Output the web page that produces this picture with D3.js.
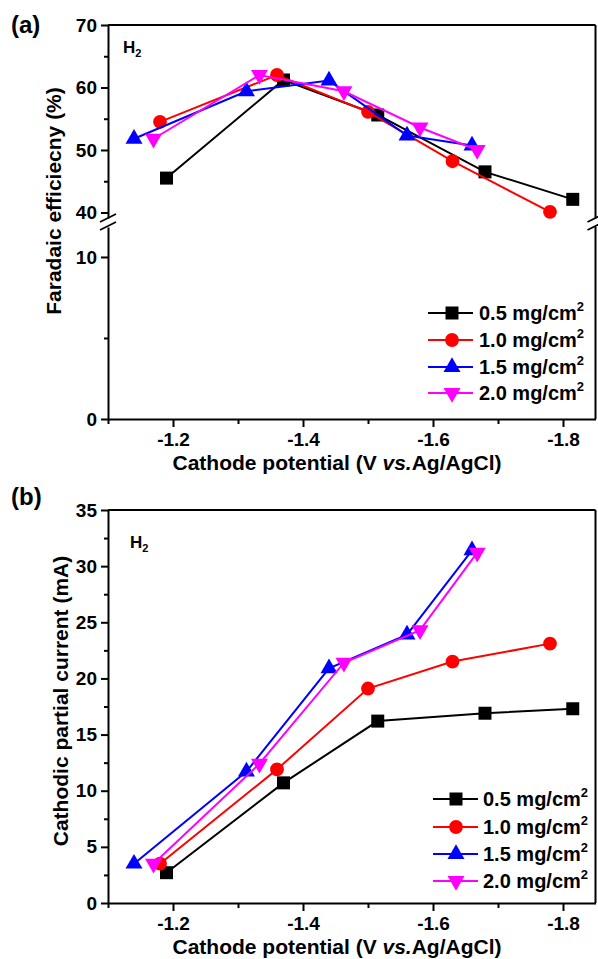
<!DOCTYPE html>
<html>
<head>
<meta charset="utf-8">
<script src="https://cdn.jsdelivr.net/npm/d3@7"></script>
<style>
  body { margin: 0; background: #fff; }
  text { font-family: Arial, "Liberation Sans", sans-serif; font-weight: bold; fill: #000; }
</style>
</head>
<body>
<svg id="chart" width="598" height="959"></svg>
<script>
// Series (loading)
let seriesNames = ["0.5 mg/cm", "1.0 mg/cm", "1.5 mg/cm", "2.0 mg/cm"];
let seriesColors = ["#000000", "#ff0000", "#0000ff", "#ff00ff"];
let seriesShapes = ["square", "circle", "triangle", "triangleDown"];

// Cathode potential (V vs. Ag/AgCl) for each series
let potA = [-1.19, -1.37, -1.515, -1.68, -1.815];
let potB = [-1.18, -1.36, -1.50, -1.63, -1.78];
let potC = [-1.14, -1.313, -1.44, -1.56, -1.66];
let potD = [-1.17, -1.333, -1.463, -1.58, -1.668];

// (a) Faradaic efficiency of H2 (%)
let feA = [45.5, 61.2, 55.6, 46.5, 42.1];
let feB = [54.5, 62.0, 56.1, 48.2, 40.1];
let feC = [51.8, 59.4, 61.1, 52.3, 50.7];
let feD = [51.8, 62.0, 59.4, 53.6, 50.0];

// (b) Cathodic partial current of H2 (mA)
let curA = [2.7, 10.7, 16.2, 16.9, 17.3];
let curB = [3.5, 11.9, 19.1, 21.5, 23.1];
let curC = [3.5, 11.7, 20.9, 23.9, 31.4];
let curD = [3.5, 12.4, 21.4, 24.3, 31.2];

// Tick values
let xMajor = [-1.2, -1.4, -1.6, -1.8];
let xMinor = [-1.1, -1.3, -1.5, -1.7];
let feUpMajor = [40, 50, 60, 70];
let feUpMinor = [45, 55, 65];
let feLowMajor = [0, 10];
let feLowMinor = [5];
let curMajor = [0, 5, 10, 15, 20, 25, 30, 35];
let curMinor = [2.5, 7.5, 12.5, 17.5, 22.5, 27.5, 32.5];

const pots = [potA, potB, potC, potD];
const fes = [feA, feB, feC, feD];
const curs = [curA, curB, curC, curD];

const svg = d3.select("#chart");

const x = d3.scaleLinear().domain([-1.1, -1.85]).range([108, 595.5]);
const left = x.range()[0], right = x.range()[1];

// top panel: broken y axis
const yUp = d3.scaleLinear().domain([39.1, 70]).range([218.1, 25]);
const yLow = d3.scaleLinear().domain([0, 11.85]).range([419, 227]);
// bottom panel
const yCur = d3.scaleLinear().domain([0, 35]).range([903, 510]);

function symbolPath(shape) {
  if (shape == "square") return d3.symbol().type(d3.symbolSquare).size(169)();
  if (shape == "circle") return d3.symbol().type(d3.symbolCircle).size(150)();
  return d3.symbol().type(d3.symbolTriangle).size(125)();
}

function styleAxis(g, fontSize) {
  g.attr("font-family", null).attr("font-size", null);
  g.selectAll("path, line").attr("stroke", "#000").attr("stroke-width", 2);
  g.selectAll("text").attr("font-size", fontSize).attr("fill", "#000");
}

function drawXAxis(yPos) {
  let g = svg.append("g").attr("transform", "translate(0," + yPos + ")")
    .call(d3.axisBottom(x).tickValues(xMajor).tickSize(8).tickSizeOuter(0)
      .tickPadding(6).tickFormat(d => d.toFixed(1)));
  styleAxis(g, 19);
  let gm = svg.append("g").attr("transform", "translate(0," + yPos + ")")
    .call(d3.axisBottom(x).tickValues(xMinor).tickSize(5).tickFormat(""));
  gm.select(".domain").remove();
  styleAxis(gm, 19);
}

function drawYAxis(scale, major, minor) {
  let g = svg.append("g").attr("transform", "translate(" + left + ",0)")
    .call(d3.axisLeft(scale).tickValues(major).tickSize(7).tickSizeOuter(0).tickPadding(4));
  styleAxis(g, 19);
  let gm = svg.append("g").attr("transform", "translate(" + left + ",0)")
    .call(d3.axisLeft(scale).tickValues(minor).tickSize(4).tickFormat(""));
  gm.select(".domain").remove();
  styleAxis(gm, 19);
}

function frameLine(x1, y1, x2, y2) {
  svg.append("line").attr("x1", x1).attr("y1", y1).attr("x2", x2).attr("y2", y2)
    .attr("stroke", "#000").attr("stroke-width", 2);
}

function breakMarks(ax, yc) {
  [-4, 4].forEach(function (o) {
    svg.append("line")
      .attr("x1", ax - 8).attr("y1", yc + o + 4)
      .attr("x2", ax + 8).attr("y2", yc + o - 4)
      .attr("stroke", "#000").attr("stroke-width", 1.8);
  });
}

function drawSeries(yFn, values) {
  for (let i = 0; i < seriesNames.length; i++) {
    let pts = pots[i].map((p, j) => [x(p), yFn(values[i][j])]);
    svg.append("path").attr("d", d3.line()(pts))
      .attr("fill", "none").attr("stroke", seriesColors[i]).attr("stroke-width", 2);
    svg.append("g").selectAll("path").data(pts).enter().append("path")
      .attr("d", symbolPath(seriesShapes[i]))
      .attr("transform", d => "translate(" + d[0] + "," + d[1] + ")" +
        (seriesShapes[i] == "triangleDown" ? " rotate(180)" : ""))
      .attr("fill", seriesColors[i]);
  }
}

function drawLegend(rows, x0, x1, xm, xt) {
  for (let i = 0; i < seriesNames.length; i++) {
    let y = rows[i];
    svg.append("line").attr("x1", x0).attr("x2", x1).attr("y1", y).attr("y2", y)
      .attr("stroke", seriesColors[i]).attr("stroke-width", 2);
    svg.append("path").attr("d", symbolPath(seriesShapes[i]))
      .attr("transform", "translate(" + xm + "," + y + ")" +
        (seriesShapes[i] == "triangleDown" ? " rotate(180)" : ""))
      .attr("fill", seriesColors[i]);
    let t = svg.append("text").attr("x", xt).attr("y", y + 7).attr("font-size", 20);
    t.append("tspan").text(seriesNames[i]);
    t.append("tspan").attr("font-size", 13).attr("dy", -9).text("2");
  }
}

function xTitle(yBase) {
  let t = svg.append("text").attr("x", 337).attr("y", yBase)
    .attr("text-anchor", "middle").attr("font-size", 21);
  t.append("tspan").text("Cathode potential (V ");
  t.append("tspan").attr("font-style", "italic").text("vs.");
  t.append("tspan").text("Ag/AgCl)");
}

function yTitle(cx, cy, label) {
  svg.append("text").attr("transform", "translate(" + cx + "," + cy + ") rotate(-90)")
    .attr("text-anchor", "middle").attr("font-size", 21).text(label);
}

function h2Label(xp, yp) {
  let t = svg.append("text").attr("x", xp).attr("y", yp).attr("font-size", 17);
  t.append("tspan").text("H");
  t.append("tspan").attr("font-size", 11).attr("dy", 4).text("2");
}

// ---------- (a) ----------
frameLine(left, 25, right, 25);
frameLine(right, 25, right, yUp.range()[0]);
frameLine(right, yLow.range()[1], right, 419);
drawYAxis(yUp, feUpMajor, feUpMinor);
drawYAxis(yLow, feLowMajor, feLowMinor);
drawXAxis(419);
breakMarks(left, 222);
breakMarks(right, 222);
drawSeries(v => (v >= 39.1 ? yUp(v) : yLow(v)), fes);
drawLegend([313, 340, 367, 393], 428, 473, 452, 479);
h2Label(123, 53);
svg.append("text").attr("x", 11).attr("y", 33).attr("font-size", 24).text("(a)");
yTitle(61, 201, "Faradaic efficiecny (%)");
xTitle(470);

// ---------- (b) ----------
frameLine(left, 510, right, 510);
frameLine(right, 510, right, 903);
drawYAxis(yCur, curMajor, curMinor);
drawXAxis(903);
drawSeries(v => yCur(v), curs);
drawLegend([799, 827, 854, 881], 433, 478, 456, 483);
h2Label(130, 548);
svg.append("text").attr("x", 11).attr("y", 505).attr("font-size", 24).text("(b)");
yTitle(68, 701, "Cathodic partial current  (mA)");
xTitle(954);
</script>
</body>
</html>
